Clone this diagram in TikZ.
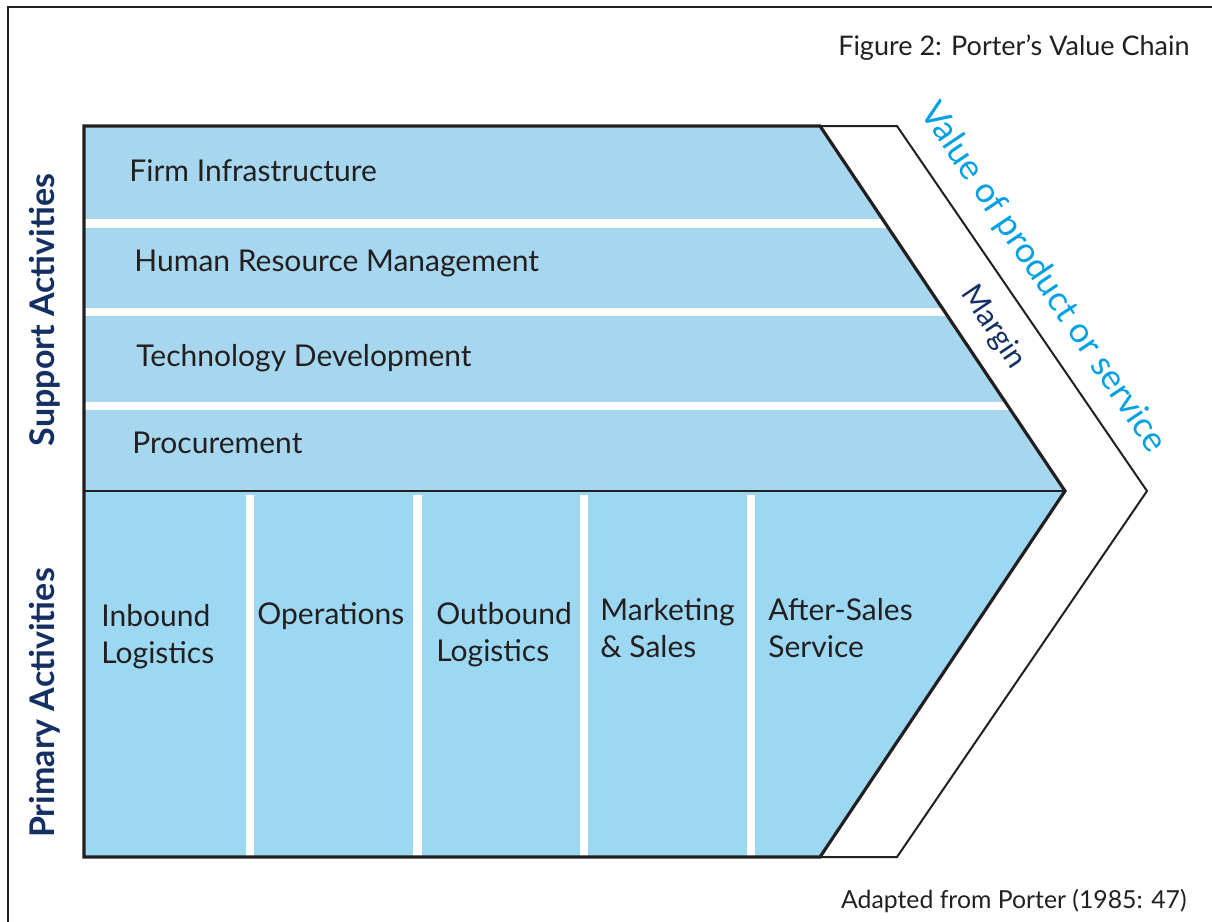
\documentclass[tikz,border=0pt]{standalone}
\usepackage{fontspec}
\setmainfont{Lato}
\definecolor{supblue}{RGB}{166,215,238}
\definecolor{priblue}{RGB}{157,216,243}
\definecolor{navy}{RGB}{20,48,98}
\definecolor{cyanlbl}{RGB}{0,160,226}
\definecolor{ink}{RGB}{35,31,32}
\tikzset{
  vc/.style={x=0.5pt,y=-0.5pt},
  band/.style={anchor=base west,inner sep=0pt,text=ink,font=\fontsize{15}{18}\selectfont},
  act/.style={anchor=base west,align=left,text=ink,inner sep=0pt,font=\fontsize{15}{18.5}\selectfont},
  side/.style={rotate=90,text=navy,font=\fontsize{17}{20}\selectfont\bfseries},
  slope/.style={rotate=-56.1,inner sep=0pt,font=\fontsize{15}{18}\selectfont},
  note/.style={anchor=base east,inner sep=0pt,text=ink,font=\fontsize{12.4}{15}\selectfont},
  gap/.style={white,line width=4.25pt},
}

\begin{document}
\begin{tikzpicture}[vc]
  \useasboundingbox (0,0) rectangle (1212,922);
  % page frame, only top and left edges show
  \draw[ink,line width=1pt] (8,922) -- (8,7) -- (1212,7);

  % support and primary halves of the chevron
  \fill[supblue] (84,126) -- (820,126) -- (1065,491) -- (84,491) -- cycle;
  \fill[priblue] (84,491) -- (1065,491) -- (820,857) -- (84,857) -- cycle;

  % white gaps between the bands and the columns
  \begin{scope}
    \clip (84,126) -- (820,126) -- (1065,491) -- (84,491) -- cycle;
    \foreach \y in {223.5,312,406} \draw[gap] (80,\y) -- (1100,\y);
  \end{scope}
  \foreach \x in {250,417.5,584,751} \draw[gap] (\x,495) -- (\x,857);

  % outlines
  \draw[ink,line width=0.6pt] (84,491) -- (1065,491);
  \draw[ink,line width=1pt] (820,126) -- (897,126) -- (1147,491) -- (897,857) -- (820,857);
  \draw[ink,line width=1.6pt,line join=miter] (84,126) -- (820,126) -- (1065,491) -- (820,857) -- (84,857) -- cycle;

  % support activities
  \node[band] (infra) at (129,181) {Firm Infrastructure};
  \node[band] (hrm)   at (134,271) {Human Resource Management};
  \node[band] (tech)  at (136,366) {Technology Development};
  \node[band] (proc)  at (132,453) {Procurement};

  % primary activities (base = last line)
  \node[act] (inbound)  at (101,663) {Inbound\\Logistics};
  \node[act] (ops)      at (257,624) {Operations};
  \node[act] (outbound) at (436,661) {Outbound\\Logistics};
  \node[act] (market)   at (600,657) {Marketing\\\& Sales};
  \node[act] (after)    at (768,657) {After-Sales\\Service};

  % side headings
  \node[side] (support) at (45,310) {Support Activities};
  \node[side] (primary) at (45,703) {Primary Activities};

  % margin and value along the chevron slope
  \node[slope,text=navy] (margin) at (993,327) {Margin};
  \node[slope,text=cyanlbl,font=\fontsize{17.5}{21}\selectfont] (value) at (1043,278) {Value of product or service};

  % captions
  \node[note,font=\fontsize{13.5}{16}\selectfont] (title) at (1190,55) {Figure 2: Porter’s Value Chain};
  \node[note] (source) at (1187,908) {Adapted from Porter (1985: 47)};
\end{tikzpicture}
\end{document}
